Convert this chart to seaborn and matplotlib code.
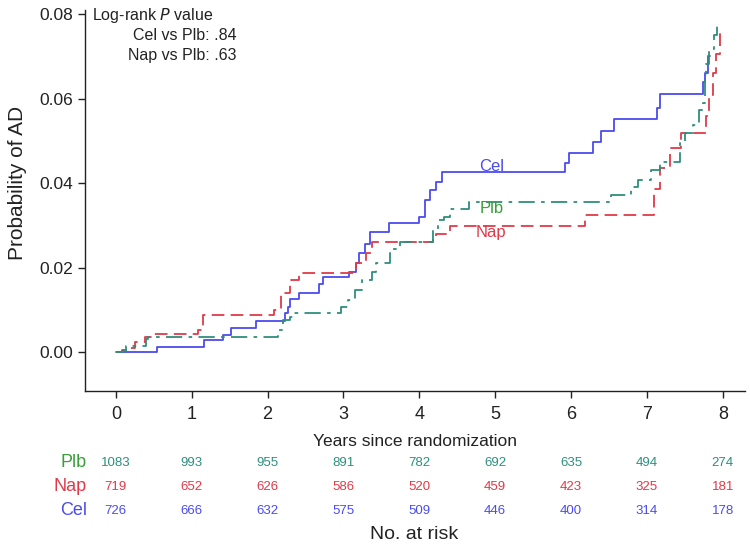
import numpy as np
import pandas as pd
import matplotlib
matplotlib.use("Agg")
import matplotlib.pyplot as plt
import seaborn as sns

# ---- data ----
cel_t = [0, 0.545, 1.164, 1.414, 1.524, 1.853, 2.235, 2.27, 2.30, 2.41, 2.68, 2.73, 3.07, 3.17,
         3.21, 3.28, 3.35, 3.60, 4.00, 4.07, 4.14, 4.22, 4.30, 5.92, 5.97, 6.29, 6.40, 6.56,
         7.13, 7.17, 7.74, 7.76, 7.81, 7.83]
cel_p = [0, 0.0013, 0.0028, 0.0040, 0.0058, 0.0073, 0.0092, 0.0107, 0.0125, 0.0139, 0.0162, 0.0177,
         0.0190, 0.0210, 0.0234, 0.0257, 0.0285, 0.0306, 0.0320, 0.0361, 0.0383, 0.0403, 0.0427,
         0.0448, 0.0472, 0.0498, 0.0523, 0.0551, 0.0579, 0.0612, 0.0640, 0.0660, 0.0702, 0.0702]

nap_t = [0, 0.08, 0.18, 0.25, 0.38, 0.47, 1.08, 1.15, 2.09, 2.18, 2.29, 2.31, 2.42, 3.17, 3.30,
         3.37, 4.18, 4.22, 4.40, 6.19, 7.10, 7.17, 7.31, 7.45, 7.78, 7.82, 7.87, 7.91, 7.97, 7.98]
nap_p = [0, 0.0005, 0.0009, 0.0024, 0.0035, 0.0042, 0.0052, 0.0088, 0.0101, 0.0139, 0.0162, 0.0172,
         0.0188, 0.0210, 0.0234, 0.0260, 0.0273, 0.0280, 0.0298, 0.0324, 0.0387, 0.0435, 0.0484,
         0.0519, 0.0560, 0.0608, 0.0660, 0.0707, 0.0760, 0.0760]

plb_t = [0, 0.09, 0.13, 0.40, 0.42, 2.14, 2.20, 2.29, 2.34, 2.97, 3.06, 3.15, 3.24, 3.37, 3.43,
         3.61, 3.65, 3.74, 4.18, 4.25, 4.33, 4.40, 4.66, 6.53, 6.79, 6.88, 7.06, 7.17, 7.43, 7.50,
         7.61, 7.69, 7.74, 7.76, 7.78, 7.82, 7.88, 7.93, 7.94]
plb_p = [0, 0.0003, 0.0014, 0.0030, 0.0036, 0.0052, 0.0077, 0.0084, 0.0092, 0.0107, 0.0123, 0.0147,
         0.0170, 0.0190, 0.0210, 0.0234, 0.0245, 0.0260, 0.0289, 0.0312, 0.0320, 0.0340, 0.0356,
         0.0372, 0.0391, 0.0407, 0.0431, 0.0450, 0.0498, 0.0518, 0.0537, 0.0573, 0.0590, 0.0652,
         0.0683, 0.0719, 0.0750, 0.0782, 0.0782]

groups = ["Plb", "Nap", "Cel"]
risk_years = [0, 1, 2, 3, 4, 5, 6, 7, 8]
risk_plb = [1083, 993, 955, 891, 782, 692, 635, 494, 274]
risk_nap = [719, 652, 626, 586, 520, 459, 423, 325, 181]
risk_cel = [726, 666, 632, 575, 509, 446, 400, 314, 178]

# ---- styling ----
sns.set_theme(style="ticks")
plt.rcParams["font.family"] = ["Liberation Sans", "DejaVu Sans"]

col_line = {"Cel": "#4b4bf0", "Nap": "#e03a48", "Plb": "#2e8f7c"}
col_label = {"Cel": "#4b4bf0", "Nap": "#e03a48", "Plb": "#3a9e3a"}
ink = "#222222"

df = pd.concat([
    pd.DataFrame({"t": cel_t, "p": cel_p, "group": "Cel"}),
    pd.DataFrame({"t": nap_t, "p": nap_p, "group": "Nap"}),
    pd.DataFrame({"t": plb_t, "p": plb_p, "group": "Plb"}),
], ignore_index=True)

fig = plt.figure(figsize=(7.5, 5.48), dpi=100)
ax = fig.add_axes([0.113, 0.2865, 0.88, 0.695])

sns.lineplot(data=df, x="t", y="p", hue="group", style="group",
             palette=col_line,
             dashes={"Cel": "", "Nap": (7, 3.5), "Plb": (9, 3.5, 2, 3.5)},
             estimator=None, sort=False, units="group",
             drawstyle="steps-post", linewidth=1.3, legend=False, ax=ax)

ax.set_xlim(-0.41, 8.29)
ax.set_ylim(-0.0092, 0.081)
ax.set_xticks(risk_years)
ax.set_yticks([0, 0.02, 0.04, 0.06, 0.08])
ax.set_yticklabels(["0.00", "0.02", "0.04", "0.06", "0.08"], fontsize=12.5)
ax.set_xticklabels([str(y) for y in risk_years], fontsize=13)
for s in ["top", "right"]:
    ax.spines[s].set_visible(False)
for s in ["left", "bottom"]:
    ax.spines[s].set_color(ink)
    ax.spines[s].set_linewidth(1.0)
ax.tick_params(axis="both", direction="out", length=5, width=1, color=ink, labelcolor=ink)
ax.tick_params(axis="x", pad=6)
ax.set_xlabel("Years since randomization", fontsize=12.5, color=ink, labelpad=8)
ax.set_ylabel("Probability of AD", fontsize=15, color=ink)
ax.yaxis.set_label_coords(-0.088, 0.546)

# curve labels
ax.text(4.95, 0.0440, "Cel", color=col_label["Cel"], fontsize=12, ha="center", va="center")
ax.text(4.95, 0.0340, "Plb", color=col_label["Plb"], fontsize=12, ha="center", va="center")
ax.text(4.95, 0.0283, "Nap", color=col_label["Nap"], fontsize=12, ha="center", va="center")

# log-rank annotation
ax.text(0.011, 0.987, "Log-rank $\\it{P}$ value", transform=ax.transAxes, fontsize=11.5,
        ha="left", va="center", color=ink)
ax.text(0.230, 0.934, "Cel vs Plb: .84", transform=ax.transAxes, fontsize=11.5,
        ha="right", va="center", color=ink)
ax.text(0.230, 0.882, "Nap vs Plb: .63", transform=ax.transAxes, fontsize=11.5,
        ha="right", va="center", color=ink)

# number at risk table
trans = ax.get_xaxis_transform()
rows = [("Plb", risk_plb, -0.189), ("Nap", risk_nap, -0.252), ("Cel", risk_cel, -0.315)]
for name, vals, yy in rows:
    ax.text(-0.38, yy, name, transform=trans, fontsize=13, ha="right", va="center",
            color=col_label[name], clip_on=False)
    for xv, n in zip(risk_years, vals):
        ax.text(xv, yy, str(n), transform=trans, fontsize=9.5, ha="center", va="center",
                color=col_line[name], clip_on=False)
ax.text(3.93, -0.378, "No. at risk", transform=trans, fontsize=14, ha="center", va="center",
        color=ink, clip_on=False)

fig.savefig("out.png", dpi=100)
